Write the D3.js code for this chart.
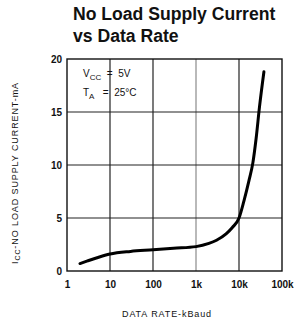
<!DOCTYPE html>
<html>
<head>
<meta charset="utf-8">
<script src="https://cdn.jsdelivr.net/npm/d3@7"></script>
<style>
  body { margin: 0; background: #fff; }
  #chart { width: 298px; height: 326px; }
  text { font-family: "Liberation Sans", Arial, sans-serif; fill: #111; }
  .title { font-size: 17.6px; font-weight: bold; }
  .tick text { font-size: 10px; font-weight: bold; }
  .axisLabel { font-size: 9px; letter-spacing: 0.9px; }
  .note { font-size: 10px; white-space: pre; }
</style>
</head>
<body>
<div id="chart"></div>
<script>
// data
const dataRate = [2, 3, 5, 10, 30, 100, 300, 1000, 2000, 3000, 5000, 7000, 10000, 13000, 17000, 21000, 25000, 30000, 38000];
const supplyCurrent = [0.7, 0.95, 1.25, 1.6, 1.85, 2.0, 2.15, 2.3, 2.6, 2.9, 3.5, 4.1, 5.0, 6.6, 8.5, 10.2, 12.5, 15.5, 18.8];
const xTicks = [1, 10, 100, 1000, 10000, 100000];
const xTickLabels = ["1", "10", "100", "1k", "10k", "100k"];
const yTicks = [0, 5, 10, 15, 20];

const width = 298, height = 326;
const margin = { top: 59, left: 67, right: 16, bottom: 55 };

const svg = d3.select("#chart").append("svg")
    .attr("width", width)
    .attr("height", height);

const xScale = d3.scaleLog()
    .domain([1, 100000])
    .range([margin.left, width - margin.right]);

const yScale = d3.scaleLinear()
    .domain([0, 20])
    .range([height - margin.bottom, margin.top]);

// title
svg.append("text").attr("class", "title").attr("x", 73).attr("y", 20).text("No Load Supply Current");
svg.append("text").attr("class", "title").attr("x", 73).attr("y", 42).text("vs Data Rate");

// grid
svg.selectAll(".vgrid")
    .data(xTicks.slice(1, -1))
    .enter().append("line")
    .attr("x1", d => xScale(d)).attr("x2", d => xScale(d))
    .attr("y1", yScale(0)).attr("y2", yScale(20))
    .attr("stroke", d => d === 1000 ? "#8a8a8a" : "#222")
    .attr("stroke-width", 1.2);

svg.selectAll(".hgrid")
    .data(yTicks.slice(1, -1))
    .enter().append("line")
    .attr("x1", xScale(1)).attr("x2", xScale(100000))
    .attr("y1", d => yScale(d)).attr("y2", d => yScale(d))
    .attr("stroke", "#222")
    .attr("stroke-width", 1.2);

svg.append("rect")
    .attr("x", xScale(1)).attr("y", yScale(20))
    .attr("width", xScale(100000) - xScale(1))
    .attr("height", yScale(0) - yScale(20))
    .attr("fill", "none").attr("stroke", "#111").attr("stroke-width", 1.4);

// axes (labels only)
const xAxis = svg.append("g")
    .attr("transform", `translate(0,${yScale(0)})`)
    .call(d3.axisBottom(xScale).tickValues(xTicks).tickFormat((d, i) => xTickLabels[i]).tickSize(0).tickPadding(10));
xAxis.select(".domain").remove();

const yAxis = svg.append("g")
    .attr("transform", `translate(${xScale(1)},0)`)
    .call(d3.axisLeft(yScale).tickValues(yTicks).tickSize(0).tickPadding(5));
yAxis.select(".domain").remove();

// curve
const line = d3.line()
    .x((d, i) => xScale(dataRate[i]))
    .y(d => yScale(d))
    .curve(d3.curveMonotoneX);

svg.append("path")
    .datum(supplyCurrent)
    .attr("d", line)
    .attr("fill", "none")
    .attr("stroke", "#000")
    .attr("stroke-width", 3)
    .attr("stroke-linecap", "round");

// conditions
const n1 = svg.append("text").attr("class", "note").attr("x", 83).attr("y", 77);
n1.append("tspan").text("V");
n1.append("tspan").attr("dy", 3).attr("font-size", "8px").text("CC");
n1.append("tspan").attr("dy", -3).text("\u00a0\u00a0=\u00a0\u00a05V");
const n2 = svg.append("text").attr("class", "note").attr("x", 83).attr("y", 96);
n2.append("tspan").text("T");
n2.append("tspan").attr("dy", 3).attr("font-size", "8px").text("A");
n2.append("tspan").attr("dy", -3).text("\u00a0\u00a0\u00a0=\u00a0\u00a025°C");

// axis labels
svg.append("text")
    .attr("class", "axisLabel")
    .attr("text-anchor", "middle")
    .attr("x", 167).attr("y", 317)
    .text("DATA RATE-kBaud");

const yl = svg.append("text")
    .attr("class", "axisLabel")
    .attr("text-anchor", "middle")
    .attr("transform", "translate(18,173) rotate(-90)");
yl.append("tspan").text("I");
yl.append("tspan").attr("dy", 2).attr("font-size", "7px").text("CC");
yl.append("tspan").attr("dy", -2).text("-NO LOAD SUPPLY CURRENT-mA");
</script>
</body>
</html>
